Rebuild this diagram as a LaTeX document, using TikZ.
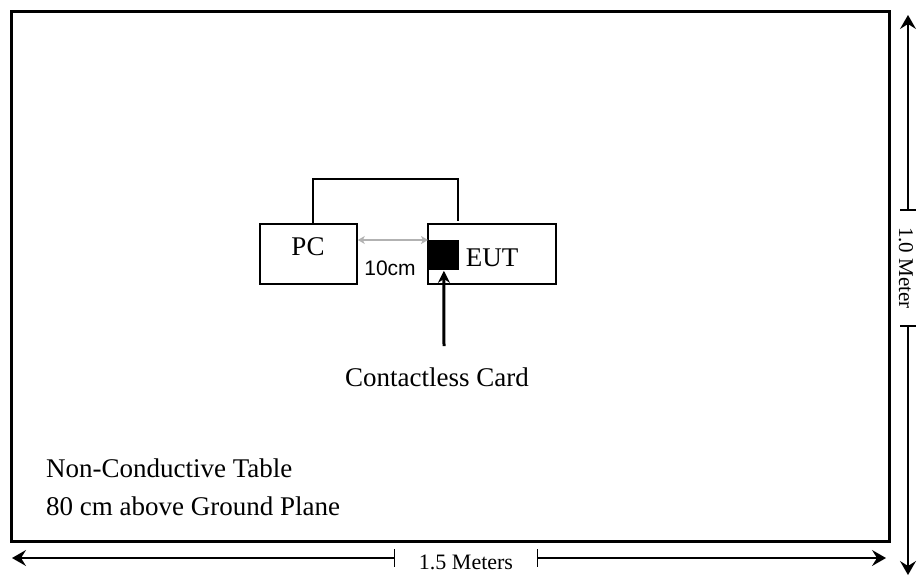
\documentclass[tikz,border=0pt]{standalone}
\usepackage{fontspec}
\setmainfont{Liberation Serif}
\setsansfont{Liberation Sans}
\usetikzlibrary{positioning,calc,arrows.meta}

\begin{document}
\begin{tikzpicture}[x=0.5pt, y=-0.5pt,
    every node/.style={font=\fontsize{13.5}{15}\selectfont},
    >={Stealth[length=7pt, width=8pt, inset=2.5pt]},
    unitbox/.style={draw, line width=0.8pt, inner sep=0pt, minimum width=48.5pt, minimum height=30pt},
    dimline/.style={line width=0.7pt}]
  \useasboundingbox (0,0) rectangle (917,580);
  \clip (0,0) rectangle (917,580);

  % table outline
  \node[draw, line width=1.3pt, inner sep=0pt, minimum width=439pt, minimum height=265pt, anchor=north west] (table) at (10,10) {};

  % units on the table
  \node[unitbox] (pc) at (308.5,254) {};
  \node (pctext) at (308,247) {PC};
  \node[unitbox, minimum width=64pt] (eut) at (492,254) {};
  \node (euttext) at (492,258) {EUT};
  \node[fill=black, inner sep=0pt, minimum width=15.5pt, minimum height=15pt, anchor=north west] (card) at (428,240) {};

  \draw[line width=0.8pt] ([xshift=2.25pt]pc.north) -- ++(0,-44) -| ([xshift=-17pt,yshift=1pt]eut.north);

  % spacing
  \draw[<->, gray!60, line width=0.7pt, >={Stealth[length=3.5pt, width=4pt, inset=1pt]}] (pc.east |- card.north) -- (card.north west);
  \node[font=\sffamily\fontsize{10.5}{12}\selectfont] (gap) at (390,268) {10cm};

  % contactless card
  \node (cardtext) at (437,377) {Contactless Card};
  \coordinate (cardfoot) at (444,346);
  \draw[->, line width=1.5pt, >={Stealth[length=6pt, width=6pt]}] (cardfoot) -- (card.south);

  \node[anchor=west] (tablename) at (39,468) {Non-Conductive Table};
  \node[anchor=west] (tableheight) at (39,506) {80 cm above Ground Plane};

  % width dimension
  \coordinate (wl) at (12,558);
  \coordinate (wr) at (886,558);
  \node[font=\fontsize{11}{13}\selectfont, inner sep=0pt, minimum width=71pt] (wlabel) at (466,562) {1.5 Meters};
  \draw[<-, dimline] (wl) -- (wlabel.west |- wl);
  \draw[->, dimline] (wlabel.east |- wr) -- (wr);
  \draw[dimline] ($(wlabel.west |- wl)+(0,-9)$) -- ++(0,18);
  \draw[dimline] ($(wlabel.east |- wr)+(0,-9)$) -- ++(0,18);

  % depth dimension
  \coordinate (ht) at (908,15);
  \coordinate (hb) at (908,575);
  \node[rotate=-90, font=\fontsize{10.5}{12}\selectfont, inner sep=0pt, minimum width=57.5pt] (hlabel) at (906,268) {1.0 Meter};
  \draw[<-, dimline] (ht) -- (ht |- hlabel.west);
  \draw[->, dimline] (hb |- hlabel.east) -- (hb);
  \draw[dimline] ($(ht |- hlabel.west)+(-8,0)$) -- ++(16,0);
  \draw[dimline] ($(hb |- hlabel.east)+(-8,0)$) -- ++(16,0);
\end{tikzpicture}
\end{document}
